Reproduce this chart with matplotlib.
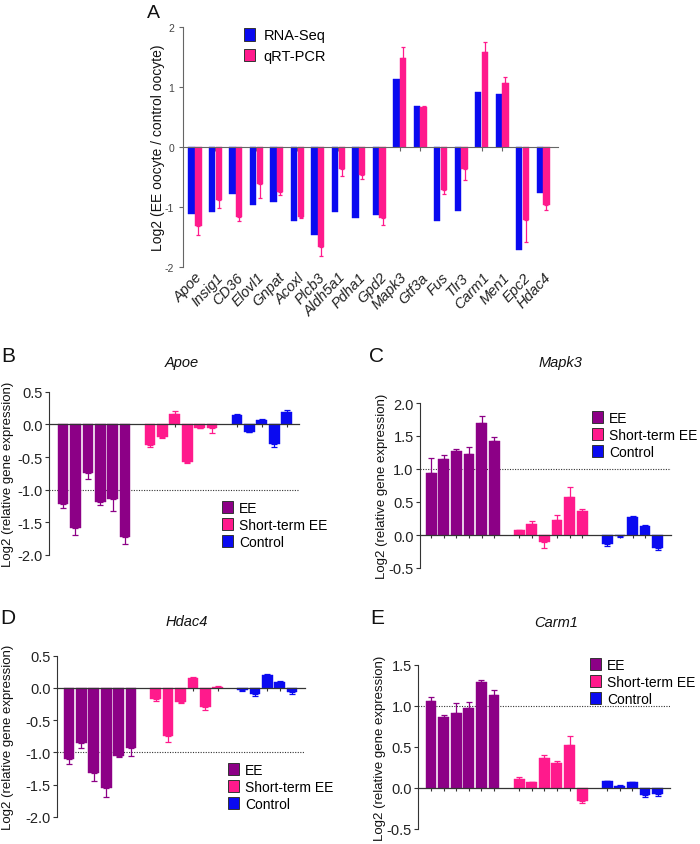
import numpy as np
import matplotlib
matplotlib.use('Agg')
import matplotlib.pyplot as plt
from matplotlib.patches import Patch

plt.rcParams['font.family'] = ['Liberation Sans', 'DejaVu Sans']

W, H = 700, 845
BLUE = '#0A0AF0'
PINK = '#FF1A8C'
PURPLE = '#8C0086'

# ---------------- Panel A data ----------------
genes = ['Apoe', 'Insig1', 'CD36', 'Elovl1', 'Gnpat', 'Acoxl', 'Plcb3', 'Aldh5a1', 'Pdha1',
         'Gpd2', 'Mapk3', 'Gtf3a', 'Fus', 'Tlr3', 'Carm1', 'Men1', 'Epc2', 'Hdac4']
rnaseq = [-1.11, -1.09, -0.78, -0.96, -0.91, -1.23, -1.46, -1.08, -1.18,
          -1.13, 1.14, 0.68, -1.24, -1.06, 0.92, 0.88, -1.71, -0.76]
qpcr = [-1.31, -0.89, -1.17, -0.61, -0.75, -1.16, -1.67, -0.36, -0.46,
        -1.18, 1.48, 0.67, -0.71, -0.37, 1.58, 1.06, -1.22, -0.96]
qpcr_err = [0.16, 0.13, 0.07, 0.24, 0.05, 0.03, 0.14, 0.12, 0.08,
            0.12, 0.18, 0.02, 0.07, 0.18, 0.17, 0.10, 0.36, 0.09]
legend_A = ['RNA-Seq', 'qRT-PCR']

# ---------------- Panels B-E data ----------------
groups = ['EE', 'Short-term EE', 'Control']

apoe_ee = [-1.22, -1.58, -0.75, -1.19, -1.15, -1.73]
apoe_ee_err = [0.06, 0.11, 0.09, 0.04, 0.18, 0.10]
apoe_st = [-0.32, -0.19, 0.16, -0.57, -0.05, -0.05]
apoe_st_err = [0.02, 0.02, 0.05, 0.02, 0.005, 0.08]
apoe_ctl = [0.15, -0.11, 0.07, -0.30, 0.19]
apoe_ctl_err = [0.01, 0.01, 0.005, 0.04, 0.03]

mapk3_ee = [0.94, 1.15, 1.27, 1.23, 1.69, 1.43]
mapk3_ee_err = [0.22, 0.06, 0.03, 0.10, 0.11, 0.05]
mapk3_st = [0.07, 0.16, -0.11, 0.23, 0.57, 0.37]
mapk3_st_err = [0.01, 0.05, 0.08, 0.07, 0.15, 0.02]
mapk3_ctl = [-0.13, -0.02, 0.27, 0.14, -0.19]
mapk3_ctl_err = [0.03, 0.01, 0.02, 0.01, 0.03]

hdac4_ee = [-1.10, -0.86, -1.32, -1.55, -1.06, -0.94]
hdac4_ee_err = [0.08, 0.08, 0.12, 0.15, 0.02, 0.11]
hdac4_st = [-0.18, -0.75, -0.22, 0.15, -0.29, 0.02]
hdac4_st_err = [0.02, 0.09, 0.02, 0.02, 0.06, 0.005]
hdac4_ctl = [-0.03, -0.10, 0.20, 0.09, -0.07]
hdac4_ctl_err = [0.02, 0.03, 0.02, 0.01, 0.03]

carm1_ee = [1.06, 0.86, 0.92, 0.97, 1.29, 1.13]
carm1_ee_err = [0.05, 0.03, 0.12, 0.08, 0.03, 0.07]
carm1_st = [0.11, 0.07, 0.36, 0.31, 0.53, -0.16]
carm1_st_err = [0.02, 0.005, 0.04, 0.02, 0.10, 0.02]
carm1_ctl = [0.08, 0.03, 0.07, -0.08, -0.07]
carm1_ctl_err = [0.01, 0.005, 0.005, 0.03, 0.025]

fig = plt.figure(figsize=(W / 100, H / 100), dpi=100)


def rect(x0, y0, x1, y1):
    return [x0 / W, 1 - y1 / H, (x1 - x0) / W, (y1 - y0) / H]


def ftext(x, y, s, **kw):
    fig.text(x / W, 1 - y / H, s, **kw)


def one_sided(vals, errs):
    v = np.asarray(vals, float)
    e = np.asarray(errs, float)
    lower = np.where(v < 0, e, 0)
    upper = np.where(v >= 0, e, 0)
    return [lower, upper]


# ---------------- Panel A ----------------
axA = fig.add_axes(rect(183, 28, 558, 268))
x = np.arange(len(genes))
bw = 0.31
off = 0.165
axA.bar(x - off, rnaseq, width=bw, color=BLUE, edgecolor=BLUE, linewidth=0.3, zorder=2)
axA.bar(x + off, qpcr, width=bw, color=PINK, edgecolor=PINK, linewidth=0.3, zorder=2)
axA.errorbar(x + off, qpcr, yerr=one_sided(qpcr, qpcr_err), fmt='none', ecolor=PINK,
             elinewidth=0.9, capsize=1.2, capthick=0.9, zorder=2)
axA.set_xlim(-0.585, 17.73)
axA.set_ylim(-2, 2)
axA.set_yticks([-2, -1, 0, 1, 2])
axA.set_yticklabels(['-2', '-1', '0', '1', '2'])
axA.tick_params(axis='y', labelsize=7.5, labelcolor='#444', color='#666', length=3, width=0.8)
for s in ['top', 'right']:
    axA.spines[s].set_visible(False)
axA.spines['left'].set_color('#666')
axA.spines['bottom'].set_position(('data', 0))
axA.spines['bottom'].set_color('#666')
axA.set_xticks(x)
axA.tick_params(axis='x', labelbottom=False, length=3, color='#666', width=0.8)
sec = axA.secondary_xaxis('bottom')
sec.set_xticks(x)
sec.set_xticklabels(genes)
sec.spines['bottom'].set_visible(False)
sec.tick_params(length=0, pad=2, labelsize=10.5, labelcolor='#222')
for lbl in sec.get_xticklabels():
    lbl.set_rotation(47)
    lbl.set_ha('right')
    lbl.set_va('top')
    lbl.set_rotation_mode('anchor')
    lbl.set_style('italic')
ftext(158, 148, 'Log2 (EE oocyte / control oocyte)', rotation=90, ha='center', va='center',
      fontsize=10, color='#111')
ftext(153, 13, 'A', fontsize=14, ha='center', va='center', color='#111')
hA = [Patch(facecolor=BLUE, edgecolor='#333', linewidth=0.7),
      Patch(facecolor=PINK, edgecolor='#333', linewidth=0.7)]
axA.legend(hA, legend_A, loc='upper left', bbox_to_anchor=(244 / W, 1 - 29 / H),
           bbox_transform=fig.transFigure, frameon=False, fontsize=10.5,
           handlelength=0.75, handleheight=0.95, handletextpad=0.6, labelspacing=0.45,
           borderpad=0, borderaxespad=0)


# ---------------- Panels B-E ----------------
def panel(box, xlim, ylim, yticks, ref, title, title_xy, letter, letter_xy, ylab_x,
          leg_xy, ee, ee_err, st, st_err, ctl, ctl_err):
    ax = fig.add_axes(rect(*box))
    pos = [np.arange(0, 6), np.arange(7, 13), np.arange(14, 19)]
    data = [(ee, ee_err, PURPLE), (st, st_err, PINK), (ctl, ctl_err, BLUE)]
    for p, (v, e, c) in zip(pos, data):
        ax.bar(p, v, width=0.86, color=c, edgecolor=c, linewidth=0.3, zorder=2)
        ax.errorbar(p, v, yerr=one_sided(v, e), fmt='none', ecolor=c, elinewidth=0.9,
                    capsize=2.5, capthick=0.9, zorder=2)
    ax.axhline(ref, color='#333', lw=0.8, ls=(0, (1, 1.3)), zorder=1)
    ax.set_xlim(*xlim)
    ax.set_ylim(*ylim)
    ax.set_yticks(yticks)
    ax.set_yticklabels([f'{t:.1f}' for t in yticks])
    for s in ['top', 'right']:
        ax.spines[s].set_visible(False)
    ax.spines['left'].set_color('#333')
    ax.spines['left'].set_linewidth(0.8)
    ax.spines['bottom'].set_position(('data', 0))
    ax.spines['bottom'].set_color('#333')
    ax.spines['bottom'].set_linewidth(0.9)
    ax.set_xticks(np.concatenate(pos))
    ax.tick_params(axis='x', labelbottom=False, length=2.5, width=0.8, color='#333')
    ax.tick_params(axis='y', labelsize=10.5, labelcolor='#222', length=3, width=0.8,
                   color='#333', pad=1.5)
    ycen = (box[1] + box[3]) / 2
    ftext(ylab_x, ycen, 'Log2 (relative gene expression)', rotation=90, ha='center',
          va='center', fontsize=9.5, color='#111')
    ftext(title_xy[0], title_xy[1], title, style='italic', fontsize=10.5, ha='center',
          va='center', color='#111')
    ftext(letter_xy[0], letter_xy[1], letter, fontsize=15, ha='center', va='center',
          color='#111')
    handles = [Patch(facecolor=c, edgecolor='#333', linewidth=0.7) for c in (PURPLE, PINK, BLUE)]
    ax.legend(handles, groups, loc='upper left', bbox_to_anchor=(leg_xy[0] / W, 1 - leg_xy[1] / H),
              bbox_transform=fig.transFigure, frameon=False, fontsize=10,
              handlelength=0.78, handleheight=0.95, handletextpad=0.45, labelspacing=0.2,
              borderpad=0, borderaxespad=0)
    return ax


panel((49, 392.7, 299, 556), (-1.13, 19.0), (-2.0, 0.5), [-2.0, -1.5, -1.0, -0.5, 0.0, 0.5],
      -1.0, 'Apoe', (182, 363), 'B', (8, 357), 8, (222, 502),
      apoe_ee, apoe_ee_err, apoe_st, apoe_st_err, apoe_ctl, apoe_ctl_err)

panel((420, 404, 671, 569), (-0.89, 19.06), (-0.5, 2.0), [-0.5, 0.0, 0.5, 1.0, 1.5, 2.0],
      1.0, 'Mapk3', (560, 363), 'C', (377, 357), 382, (592, 412),
      mapk3_ee, mapk3_ee_err, mapk3_st, mapk3_st_err, mapk3_ctl, mapk3_ctl_err)

panel((57, 656.7, 305, 817.7), (-0.97, 19.05), (-2.0, 0.5), [-2.0, -1.5, -1.0, -0.5, 0.0, 0.5],
      -1.0, 'Hdac4', (187, 622), 'D', (8, 618), 8, (228, 764),
      hdac4_ee, hdac4_ee_err, hdac4_st, hdac4_st_err, hdac4_ctl, hdac4_ctl_err)

panel((418, 666, 670, 830), (-1.03, 18.98), (-0.5, 1.5), [-0.5, 0.0, 0.5, 1.0, 1.5],
      1.0, 'Carm1', (556, 623), 'E', (377, 619), 380, (590, 659),
      carm1_ee, carm1_ee_err, carm1_st, carm1_st_err, carm1_ctl, carm1_ctl_err)

fig.savefig('out.png', dpi=100)
